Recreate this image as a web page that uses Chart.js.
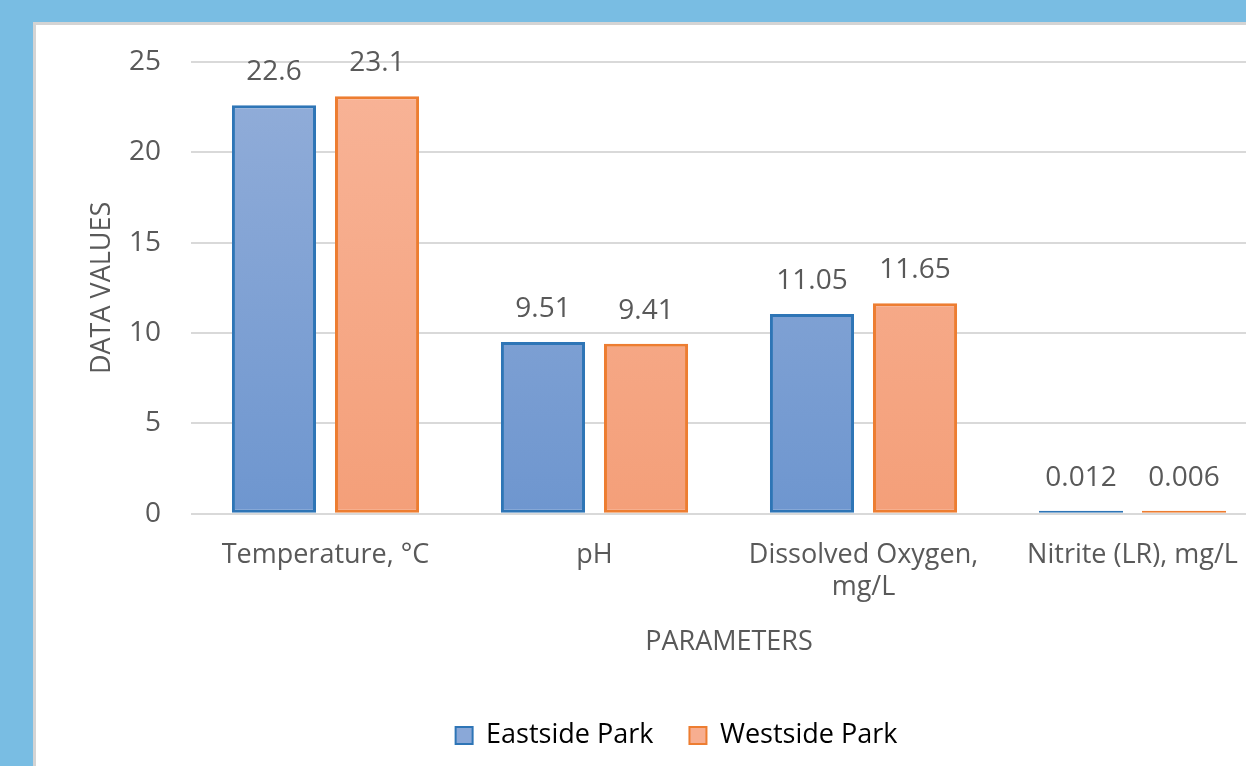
<!DOCTYPE html>
<html>
<head>
<meta charset="utf-8">
<script src="https://cdn.jsdelivr.net/npm/chart.js@4.4.0/dist/chart.umd.min.js"></script>
<style>
    html, body {
        margin: 0;
        padding: 0;
        width: 1246px;
        height: 766px;
        overflow: hidden;
        background: #79bde3;
    }
    .panel {
        position: absolute;
        left: 33px;
        top: 22px;
        width: 1300px;
        height: 800px;
        background: #ffffff;
        border: 3px solid #d4d4d4;
    }
    .chart-box {
        position: absolute;
        left: 36px;
        top: 25px;
        width: 1280px;
        height: 741px;
    }
</style>
</head>
<body>
<div class="panel"></div>
<div class="chart-box"><canvas id="waterChart"></canvas></div>
<script>
// 数据
const categories = ['Temperature, °C', 'pH', ['Dissolved Oxygen,', 'mg/L'], 'Nitrite (LR), mg/L'];
const eastsideValues = [22.6, 9.51, 11.05, 0.012];
const westsideValues = [23.1, 9.41, 11.65, 0.006];
const eastsideLabels = ['22.6', '9.51', '11.05', '0.012'];
const westsideLabels = ['23.1', '9.41', '11.65', '0.006'];
const yTicks = [0, 5, 10, 15, 20, 25];

const textColor = '#595959';
const fontFamily = "'Open Sans', 'Noto Sans', sans-serif";

// 渐变填充
function barGradient(ctx, top, bottom) {
    const chart = ctx.chart;
    const area = chart.chartArea;
    if (!area) return top;
    const g = chart.ctx.createLinearGradient(0, area.top, 0, area.bottom);
    g.addColorStop(0, top);
    g.addColorStop(1, bottom);
    return g;
}

// 柱顶数值标签
const valueLabels = {
    id: 'valueLabels',
    afterDatasetsDraw(chart) {
        const ctx = chart.ctx;
        const texts = [eastsideLabels, westsideLabels];
        ctx.save();
        ctx.fillStyle = textColor;
        ctx.font = '28px ' + fontFamily;
        ctx.textAlign = 'center';
        ctx.textBaseline = 'alphabetic';
        chart.data.datasets.forEach((ds, i) => {
            chart.getDatasetMeta(i).data.forEach((bar, j) => {
                ctx.fillText(texts[i][j], bar.x, bar.y - 25);
            });
        });
        ctx.restore();
    }
};

const ctx = document.getElementById('waterChart').getContext('2d');
const waterChart = new Chart(ctx, {
    type: 'bar',
    data: {
        labels: categories,
        datasets: [{
            label: 'Eastside Park',
            data: eastsideValues,
            backgroundColor: c => barGradient(c, '#93aed9', '#6e96cf'),
            borderColor: '#2e75b6',
            borderWidth: 3,
            borderSkipped: false,
            minBarLength: 3
        }, {
            label: 'Westside Park',
            data: westsideValues,
            backgroundColor: c => barGradient(c, '#f8b498', '#f49f79'),
            borderColor: '#ed7d31',
            borderWidth: 3,
            borderSkipped: false,
            minBarLength: 3
        }]
    },
    options: {
        responsive: true,
        maintainAspectRatio: false,
        animation: false,
        categoryPercentage: 0.766,
        barPercentage: 0.816,
        layout: {
            padding: { left: 50, right: 49, top: 37, bottom: 7 }
        },
        scales: {
            x: {
                grid: { display: false, drawTicks: false },
                border: { display: false },
                ticks: {
                    color: textColor,
                    font: { family: fontFamily, size: 27 },
                    padding: 25,
                    maxRotation: 0,
                    autoSkip: false
                },
                title: {
                    display: true,
                    text: 'PARAMETERS',
                    color: textColor,
                    font: { family: fontFamily, size: 27 },
                    padding: { top: -2, bottom: 27 }
                }
            },
            y: {
                min: 0,
                max: 25,
                afterBuildTicks: scale => {
                    scale.ticks = yTicks.map(v => ({ value: v }));
                },
                afterFit: scale => {
                    scale.width = 105;
                },
                grid: {
                    color: '#d9d9d9',
                    lineWidth: 2,
                    drawTicks: true,
                    tickLength: 22,
                    tickColor: 'rgba(0, 0, 0, 0)'
                },
                border: { display: false },
                ticks: {
                    color: textColor,
                    font: { family: fontFamily, size: 28 },
                    padding: 8
                },
                title: {
                    display: true,
                    text: 'DATA VALUES',
                    color: textColor,
                    font: { family: fontFamily, size: 27 },
                    padding: { top: 0, bottom: 0 }
                }
            }
        },
        plugins: {
            legend: {
                position: 'bottom',
                labels: {
                    color: textColor,
                    font: { family: fontFamily, size: 27 },
                    boxWidth: 17,
                    boxHeight: 17,
                    padding: 36,
                    useBorderRadius: false,
                    generateLabels: chart => chart.data.datasets.map((ds, i) => ({
                        text: ds.label,
                        fillStyle: i === 0 ? '#8aa8d8' : '#f7ae90',
                        strokeStyle: ds.borderColor,
                        lineWidth: 2,
                        datasetIndex: i,
                        hidden: false
                    }))
                }
            },
            tooltip: { enabled: false }
        }
    },
    plugins: [valueLabels]
});
</script>
</body>
</html>
